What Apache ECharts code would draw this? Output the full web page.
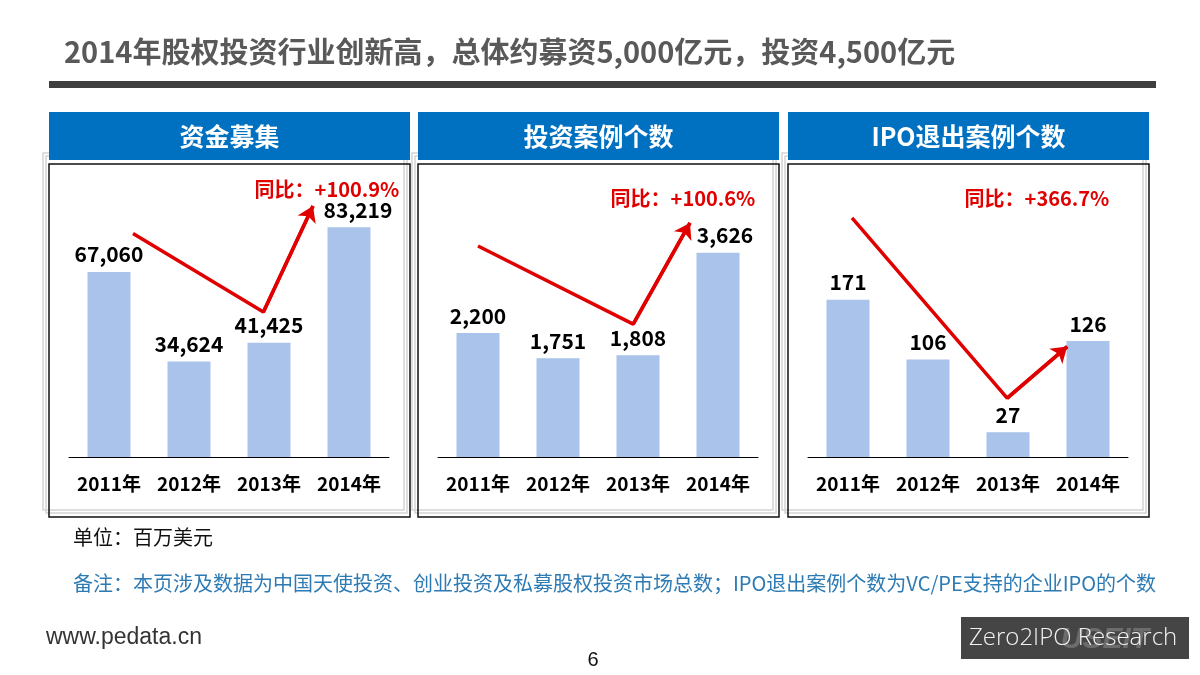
<!DOCTYPE html>
<html>
<head>
<meta charset="utf-8">
<script src="https://cdn.jsdelivr.net/npm/echarts@6/dist/echarts.min.js"></script>
<style>
html,body{margin:0;padding:0;background:#fff;}
#chart{width:1200px;height:675px;}
</style>
</head>
<body>
<div id="chart"></div>
<script>
// ---- data ----
const years = ['2011年', '2012年', '2013年', '2014年'];
const fundraising = [67060, 34624, 41425, 83219];   // 百万美元
const investCases = [2200, 1751, 1808, 3626];
const ipoExits = [171, 106, 27, 126];
const panelTitles = ['资金募集', '投资案例个数', 'IPO退出案例个数'];
const yoyLabels = ['同比：+100.9%', '同比：+100.6%', '同比：+366.7%'];
// trend arrows in data space: [category position, value]
const arrowFund = [[0.3, 81000], [1.93, 52500], [2.55, 90900]];
const arrowInvest = [[0.0, 3745], [1.94, 2360], [2.65, 4155]];
const arrowIpo = [[0.05, 260], [1.99, 64], [2.74, 120]];
const pageTitle = '2014年股权投资行业创新高，总体约募资5,000亿元，投资4,500亿元';
const unitText = '单位：百万美元';
const noteText = '备注：本页涉及数据为中国天使投资、创业投资及私募股权投资市场总数；IPO退出案例个数为VC/PE支持的企业IPO的个数';

// ---- layout / style ----
const seriesData = [fundraising, investCases, ipoExits];
const arrows = [arrowFund, arrowInvest, arrowIpo];
const yMax = [100000, 4900, 300];
const panelLeft = [49, 418, 788];
const panelW = 361;
const yoyPos = [[327, 189], [683, 198], [1037, 198]];
const lastLabelNudge = [9, 7, 0];
const CJK = '"Noto Sans CJK SC", "Noto Sans", sans-serif';
const RED = '#E00000';

const grids = [], xAxes = [], yAxes = [], series = [], graphics = [];

graphics.push({
  type: 'text', z: 10,
  style: { x: 64, y: 52, text: pageTitle, textVerticalAlign: 'middle',
    font: 'bold 29px ' + CJK, fill: '#595959' }
});
graphics.push({ type: 'rect', shape: { x: 49, y: 81, width: 1107, height: 7 }, style: { fill: '#3f3f3f' } });

for (let i = 0; i < 3; i++) {
  const L = panelLeft[i];
  graphics.push({ type: 'rect', z: 1, shape: { x: L - 6, y: 153, width: panelW, height: 357 },
    style: { fill: 'none', stroke: '#d4d4d4', lineWidth: 1.5 } });
  graphics.push({ type: 'rect', z: 1, shape: { x: L - 3, y: 156, width: panelW, height: 357 },
    style: { fill: 'none', stroke: '#d4d4d4', lineWidth: 1.5 } });
  graphics.push({ type: 'rect', z: 2, shape: { x: L, y: 164, width: panelW, height: 353 },
    style: { fill: 'none', stroke: '#111', lineWidth: 1.5 } });
  graphics.push({ type: 'rect', z: 3, shape: { x: L, y: 112, width: panelW, height: 48 },
    style: { fill: '#0070C0' } });
  graphics.push({ type: 'text', z: 4,
    style: { x: L + panelW / 2, y: 136, text: panelTitles[i], textAlign: 'center', textVerticalAlign: 'middle',
      font: 'bold 25px ' + CJK, fill: '#ffffff' } });
  graphics.push({ type: 'text', z: 10,
    style: { x: yoyPos[i][0], y: yoyPos[i][1], text: yoyLabels[i], textAlign: 'center', textVerticalAlign: 'middle',
      font: 'bold 20px ' + CJK, fill: RED } });

  grids.push({ left: L + 20, width: 320, top: 181, bottom: 218 });
  xAxes.push({
    type: 'category', gridIndex: i, data: years, boundaryGap: true,
    axisLine: { show: true, lineStyle: { color: '#000', width: 1 } },
    axisTick: { show: false },
    axisLabel: { interval: 0, margin: 17, fontSize: 19, fontWeight: 'bold', color: '#000', fontFamily: CJK }
  });
  xAxes.push({ type: 'value', gridIndex: i, min: -0.5, max: 3.5, show: false, splitLine: { show: false } });
  yAxes.push({ type: 'value', gridIndex: i, min: 0, max: yMax[i], show: false, splitLine: { show: false } });

  const barData = seriesData[i].map((v, k) =>
    (k === seriesData[i].length - 1 && lastLabelNudge[i]) ? { value: v, label: { offset: [lastLabelNudge[i], 0] } } : v);
  series.push({
    type: 'bar', xAxisIndex: 2 * i, yAxisIndex: i, data: barData, barWidth: 43,
    itemStyle: { color: '#A9C3EA' },
    label: { show: true, position: 'top', distance: 7, fontSize: 21, fontWeight: 'bold', color: '#000',
      fontFamily: CJK, formatter: p => Number(p.value).toLocaleString('en-US') }
  });
  const a = arrows[i];
  series.push({
    type: 'line', xAxisIndex: 2 * i + 1, yAxisIndex: i, data: a, symbol: 'none', z: 5,
    lineStyle: { color: RED, width: 3.5 },
    markLine: {
      silent: true, symbol: ['none', 'arrow'], symbolSize: 15, animation: false,
      lineStyle: { color: RED, width: 3.5, type: 'solid' },
      label: { show: false },
      data: [[{ coord: a[1] }, { coord: a[2] }]]
    }
  });
}

graphics.push({ type: 'text', style: { x: 73, y: 537, text: unitText, textVerticalAlign: 'middle',
  font: '20px ' + CJK, fill: '#111' } });
graphics.push({ type: 'text', style: { x: 73, y: 583, text: noteText, textVerticalAlign: 'middle',
  font: '20px ' + CJK, fill: '#2E7BB4' } });
graphics.push({ type: 'text', style: { x: 46, y: 638, text: 'www.pedata.cn', textVerticalAlign: 'middle',
  font: '23px "Liberation Sans", Arial, sans-serif', fill: '#333' } });
graphics.push({ type: 'text', style: { x: 593, y: 660, text: '6', textAlign: 'center', textVerticalAlign: 'middle',
  font: '20px "Liberation Sans", Arial, sans-serif', fill: '#111' } });
graphics.push({ type: 'rect', shape: { x: 961, y: 617, width: 228, height: 42 }, style: { fill: '#454545' } });
graphics.push({ type: 'text', style: { x: 1105, y: 640, text: 'USEIT', textAlign: 'center', textVerticalAlign: 'middle',
  font: 'italic bold 30px "Liberation Sans", Arial, sans-serif', fill: 'rgba(140,140,140,0.55)' } });
graphics.push({ type: 'text', style: { x: 969, y: 638, text: 'Zero2IPO Research', textVerticalAlign: 'middle',
  font: '300 24px "Open Sans", Lato, sans-serif', fill: '#f2f2f2' } });

const chart = echarts.init(document.getElementById('chart'));
chart.setOption({
  animation: false,
  backgroundColor: '#ffffff',
  grid: grids, xAxis: xAxes, yAxis: yAxes, series: series, graphic: graphics
});
</script>
</body>
</html>
